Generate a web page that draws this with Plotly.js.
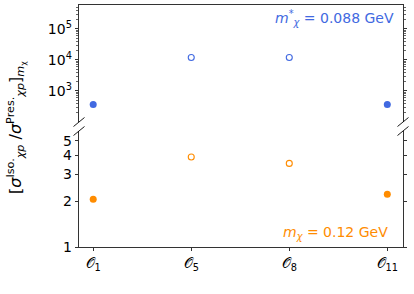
<!DOCTYPE html>
<html>
<head>
<meta charset="utf-8">
<script src="https://cdn.plot.ly/plotly-3.0.1.min.js"></script>
<style>html,body{margin:0;padding:0;background:#fff;}#chart{width:414px;height:294px;}</style>
</head>
<body>
<div id="chart"></div>
<script>
var categories = ["𝒪<sub>1</sub>", "𝒪<sub>5</sub>", "𝒪<sub>8</sub>", "𝒪<sub>11</sub>"];
var blueValues = [365, 12000, 12000, 365];        // m*χ = 0.088 GeV
var orangeValues = [2.06, 3.9, 3.54, 2.22];        // mχ = 0.12 GeV
var filledMask = [true, false, false, true];
var topTickVals = [1e3, 1e4, 1e5];
var bottomTickVals = [1, 2, 3, 4, 5];
var bottomTickText = ["1", "2", "3", "4", "5"];

var BLUE = "#4169E1", ORANGE = "#FF8C00";

function split(vals, filled) {
  var xs = [], ys = [];
  for (var i = 0; i < vals.length; i++) if (filledMask[i] === filled) { xs.push(categories[i]); ys.push(vals[i]); }
  return {x: xs, y: ys};
}

var bf = split(blueValues, true), bo = split(blueValues, false);
var of = split(orangeValues, true), oo = split(orangeValues, false);

var traces = [
  {x: bf.x, y: bf.y, xaxis: "x2", yaxis: "y2", mode: "markers", type: "scatter",
   marker: {color: BLUE, size: 7, symbol: "circle"}, hoverinfo: "y"},
  {x: bo.x, y: bo.y, xaxis: "x2", yaxis: "y2", mode: "markers", type: "scatter",
   marker: {color: BLUE, size: 6, symbol: "circle-open", line: {width: 1.1, color: BLUE}}, hoverinfo: "y"},
  {x: of.x, y: of.y, xaxis: "x", yaxis: "y", mode: "markers", type: "scatter",
   marker: {color: ORANGE, size: 7, symbol: "circle"}, hoverinfo: "y"},
  {x: oo.x, y: oo.y, xaxis: "x", yaxis: "y", mode: "markers", type: "scatter",
   marker: {color: ORANGE, size: 6, symbol: "circle-open", line: {width: 1.1, color: ORANGE}}, hoverinfo: "y"}
];

var minorTop = [];
for (var d = 2; d <= 5; d++) for (var k = 2; k <= 9; k++) minorTop.push(k * Math.pow(10, d));

var tickFont = {family: "DejaVu Sans", size: 14, color: "#000"};
var W = 324, H = 242;
var topBottom = (247 - 122) / H;
var botTop = (247 - 131) / H;

var layout = {
  width: 414, height: 294,
  margin: {l: 79, r: 11, t: 5, b: 47},
  paper_bgcolor: "#fff", plot_bgcolor: "#fff",
  showlegend: false,
  font: {family: "DejaVu Sans", size: 14, color: "#000"},
  xaxis: {
    domain: [0, 1], anchor: "y", type: "category", categoryorder: "array", categoryarray: categories,
    range: [-0.145, 3.16], showline: true, linecolor: "#000", linewidth: 0.8,
    ticks: "outside", ticklen: 3.5, tickwidth: 0.8, tickcolor: "#000",
    showgrid: false, zeroline: false, tickfont: tickFont
  },
  xaxis2: {
    domain: [0, 1], anchor: "y2", matches: "x", type: "category", side: "top",
    showline: true, linecolor: "#000", linewidth: 0.8, ticks: "", showticklabels: false,
    showgrid: false, zeroline: false
  },
  yaxis: {
    domain: [0, botTop], anchor: "x", type: "log", range: [0, 0.762],
    tickvals: bottomTickVals, ticktext: bottomTickText,
    showline: true, linecolor: "#000", linewidth: 0.8, mirror: "ticks",
    ticks: "outside", ticklen: 3.5, tickwidth: 0.8, tickcolor: "#000",
    showgrid: false, zeroline: false, tickfont: tickFont
  },
  yaxis2: {
    domain: [topBottom, 1], anchor: "x2", type: "log", range: [2.0, 5.77],
    tickvals: topTickVals, exponentformat: "power",
    ticktext: ["10<sup>3</sup>", "10<sup>4</sup>", "10<sup>5</sup>"],
    showline: true, linecolor: "#000", linewidth: 0.8, mirror: "ticks",
    ticks: "outside", ticklen: 3.5, tickwidth: 0.8, tickcolor: "#000",
    minor: {tickvals: minorTop, ticks: "outside", ticklen: 2, tickwidth: 0.6, tickcolor: "#000"},
    showgrid: false, zeroline: false, tickfont: tickFont
  },
  annotations: [
    {xref: "paper", yref: "paper", x: (396 - 79) / W, y: (247 - 18) / H, xanchor: "right", yanchor: "middle",
     text: "<i>m</i><sup>*</sup><sub><i>χ</i></sub> = 0.088 GeV", showarrow: false,
     font: {family: "DejaVu Sans", size: 14, color: BLUE}},
    {xref: "paper", yref: "paper", x: (390 - 79) / W, y: (247 - 233) / H, xanchor: "right", yanchor: "middle",
     text: "<i>m</i><sub><i>χ</i></sub> = 0.12 GeV", showarrow: false,
     font: {family: "DejaVu Sans", size: 14, color: ORANGE}},
    {xref: "paper", yref: "paper", x: (16 - 79) / W, y: (247 - 128) / H, xanchor: "center", yanchor: "middle",
     textangle: -90, showarrow: false,
     text: "[<i>σ</i><sup>Iso.</sup><sub><i>χp</i></sub> /<i>σ</i><sup>Pres.</sup><sub><i>χp</i></sub>]<sub><i>m</i><sub>χ</sub></sub>",
     font: {family: "DejaVu Sans", size: 16, color: "#000"}}
  ],
  shapes: []
};

function brk(xp, yp) {
  return {type: "line", xref: "paper", yref: "paper", xsizemode: "pixel", ysizemode: "pixel",
          xanchor: xp, yanchor: yp, x0: -5.5, x1: 5.5, y0: -4.5, y1: 4.5,
          line: {color: "#000", width: 0.9}};
}
layout.shapes.push(brk(0, topBottom), brk(0, botTop), brk(1, topBottom), brk(1, botTop));

Plotly.newPlot("chart", traces, layout, {staticPlot: true, displayModeBar: false});
</script>
</body>
</html>
